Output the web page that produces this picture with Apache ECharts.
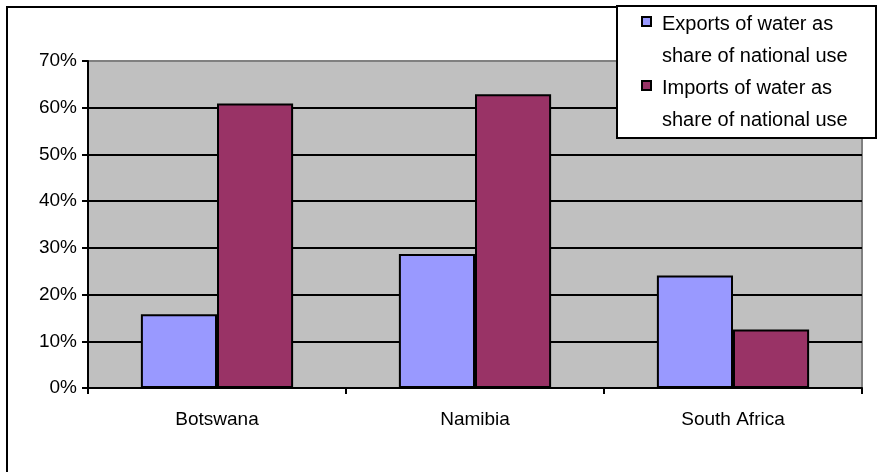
<!DOCTYPE html>
<html>
<head>
<meta charset="utf-8">
<script src="https://cdn.jsdelivr.net/npm/echarts@6/dist/echarts.min.js"></script>
<style>
  html, body { margin: 0; padding: 0; background: #ffffff; }
  #chart { width: 877px; height: 472px; }
</style>
</head>
<body>
<div id="chart"></div>
<script>
// Countries on the category axis
const countries = ['Botswana', 'Namibia', 'South Africa'];
// Water trade as a share of national use (%)
const exportsShare = [15.8, 28.7, 24.1];
const importsShare = [60.9, 62.9, 12.5];
// Series names (two-line legend entries)
const seriesNames = [
  ['Exports of water as', 'share of national use'],
  ['Imports of water as', 'share of national use']
];
const seriesColors = ['#9999FF', '#993366'];
// Value axis settings
const yMin = 0, yMax = 70, yStep = 10;

const FONT = 'Liberation Sans, Arial, sans-serif';
const chart = echarts.init(document.getElementById('chart'), null, { renderer: 'canvas' });

// Hand-built legend box: marker aligned with the first line of each entry
const legendChildren = [
  { type: 'rect', z: 200, shape: { x: 617, y: 6, width: 259, height: 132 },
    style: { fill: '#ffffff', stroke: '#000000', lineWidth: 2 } }
];
seriesNames.forEach(function (lines, i) {
  const top = 8 + i * 64;
  legendChildren.push({
    type: 'rect', z: 201, shape: { x: 642, y: top + 9, width: 9, height: 9 },
    style: { fill: seriesColors[i], stroke: '#000000', lineWidth: 2 }
  });
  legendChildren.push({
    type: 'text', z: 201, x: 662, y: top,
    style: { text: lines.join('\n'), font: '20px ' + FONT, fill: '#000000',
             lineHeight: 32, textVerticalAlign: 'top' }
  });
});

chart.setOption({
  animation: false,
  backgroundColor: '#ffffff',
  grid: {
    left: 88, top: 61, right: 15, bottom: 84,
    show: true, backgroundColor: '#C0C0C0',
    borderColor: '#808080', borderWidth: 2
  },
  xAxis: {
    type: 'category',
    data: countries,
    axisLine: { lineStyle: { color: '#000000', width: 2 } },
    axisTick: { show: true, length: 6, lineStyle: { color: '#000000', width: 2 } },
    axisLabel: { color: '#000000', fontSize: 19, fontFamily: FONT, margin: 22 }
  },
  yAxis: {
    type: 'value',
    min: yMin, max: yMax, interval: yStep,
    axisLine: { show: true, lineStyle: { color: '#000000', width: 2 } },
    axisTick: { show: true, length: 6, lineStyle: { color: '#000000', width: 2 } },
    axisLabel: { color: '#000000', fontSize: 19, fontFamily: FONT, margin: 11,
                 formatter: '{value}%' },
    splitLine: { show: true, showMaxLine: false, lineStyle: { color: '#000000', width: 2 } }
  },
  series: [
    {
      name: seriesNames[0].join(' '), type: 'bar', data: exportsShare,
      barGap: '0%', barCategoryGap: '41%',
      itemStyle: { color: seriesColors[0], borderColor: '#000000', borderWidth: 2 }
    },
    {
      name: seriesNames[1].join(' '), type: 'bar', data: importsShare,
      barGap: '0%', barCategoryGap: '41%',
      itemStyle: { color: seriesColors[1], borderColor: '#000000', borderWidth: 2 }
    }
  ],
  graphic: [
    // outer chart frame
    { type: 'rect', z: 100, shape: { x: 7, y: 7, width: 880, height: 480 },
      style: { fill: null, stroke: '#000000', lineWidth: 2 } },
    { type: 'group', z: 200, children: legendChildren }
  ]
});
</script>
</body>
</html>
